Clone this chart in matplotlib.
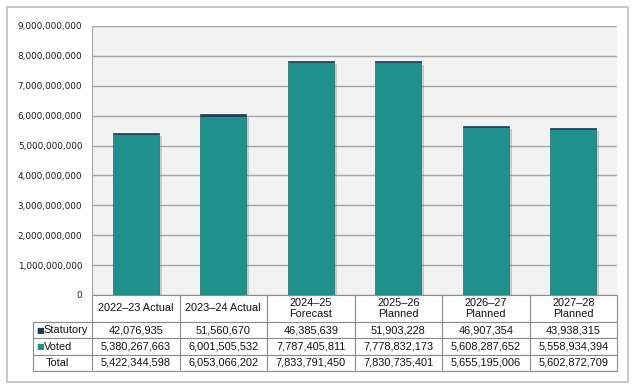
import matplotlib
matplotlib.use("Agg")
import matplotlib.pyplot as plt
import matplotlib.patheffects as pe
from matplotlib.patches import Rectangle
from matplotlib.ticker import FuncFormatter

# datos
years = ["2022\u201323 Actual", "2023\u201324 Actual", "2024\u201325\nForecast",
         "2025\u201326\nPlanned", "2026\u201327\nPlanned", "2027\u201328\nPlanned"]
statutory = [42076935, 51560670, 46385639, 51903228, 46907354, 43938315]
voted = [5380267663, 6001505532, 7787405811, 7778832173, 5608287652, 5558934394]
total = [5422344598, 6053066202, 7833791450, 7830735401, 5655195006, 5602872709]
row_names = ["Statutory", "Voted", "Total"]

c_voted = "#20908C"
c_stat = "#1C3D58"
W, H = 634, 386

fig = plt.figure(figsize=(W / 100, H / 100), dpi=100)
fig.patch.set_facecolor("white")

# marco exterior
fig.patches.append(Rectangle((7 / W, 1 - 382 / H), 621 / W, 375 / H, transform=fig.transFigure,
                             facecolor="none", edgecolor="#BDBDBD", linewidth=1.2))

x0, x1, y0, y1 = 92, 617, 26, 295
ax = fig.add_axes([x0 / W, 1 - y1 / H, (x1 - x0) / W, (y1 - y0) / H])
ax.set_facecolor("#F2F2F2")

pos = list(range(len(years)))
shadow = [pe.SimplePatchShadow(offset=(2, -1.5), shadow_rgbFace="#808080", alpha=0.35), pe.Normal()]
ax.bar(pos, voted, width=0.53, color=c_voted, edgecolor="#1d6e6c", linewidth=0.5,
       path_effects=shadow, zorder=3)
ax.bar(pos, statutory, bottom=voted, width=0.53, color=c_stat, edgecolor=c_stat,
       linewidth=0.5, zorder=3)

ax.set_xlim(-0.5, len(years) - 0.5)
ax.set_ylim(0, 9e9)
ax.set_yticks([i * 1e9 for i in range(10)])
ax.yaxis.set_major_formatter(FuncFormatter(lambda v, p: f"{int(v):,}"))
ax.tick_params(axis="y", length=0, pad=7, labelsize=6.4, labelcolor="#1a1a1a")
ax.set_xticks([])
ax.grid(axis="y", color="#A6A6A6", linewidth=1, zorder=0)
for s in ["top", "right", "bottom"]:
    ax.spines[s].set_visible(False)
ax.spines["left"].set_color("#A6A6A6")

# tabla
cells = [[""] + years]
cells.append([row_names[0]] + [f"{v:,}" for v in statutory])
cells.append([row_names[1]] + [f"{v:,}" for v in voted])
cells.append([row_names[2]] + [f"{v:,}" for v in total])

tx0, ty0, ty1 = 33, 295, 371
tab = ax.table(cellText=cells,
               bbox=[(tx0 - x0) / (x1 - x0), -(ty1 - y1) / (y1 - y0),
                     (x1 - tx0) / (x1 - x0), (ty1 - ty0) / (y1 - y0)],
               cellLoc="center")
tab.auto_set_font_size(False)
heights = [27, 17, 16.5, 16.5]
for (r, c), cell in tab.get_celld().items():
    cell.set_height(heights[r])
    cell.set_width(59 if c == 0 else 87.5)
    cell.set_edgecolor("#8C8C8C")
    cell.set_linewidth(0.8)
    cell.set_facecolor("white")
    t = cell.get_text()
    t.set_fontsize(7.9)
    t.set_fontfamily("Liberation Sans")
    t.set_color("#111111")
    t.set_linespacing(1.05)
    if c == 0:
        t.set_ha("left")
        cell.PAD = 0.21 if r == 3 else 0.18
    if r == 0 and c == 0:
        cell.visible_edges = "BR"
        cell.set_facecolor("none")

# marcadores de leyenda
fig.text(36 / W, 1 - 330 / H, "\u25A0", color=c_stat, fontsize=6, va="center", ha="left")
fig.text(36 / W, 1 - 347 / H, "\u25A0", color=c_voted, fontsize=6, va="center", ha="left")

fig.savefig("out.png", dpi=100)
